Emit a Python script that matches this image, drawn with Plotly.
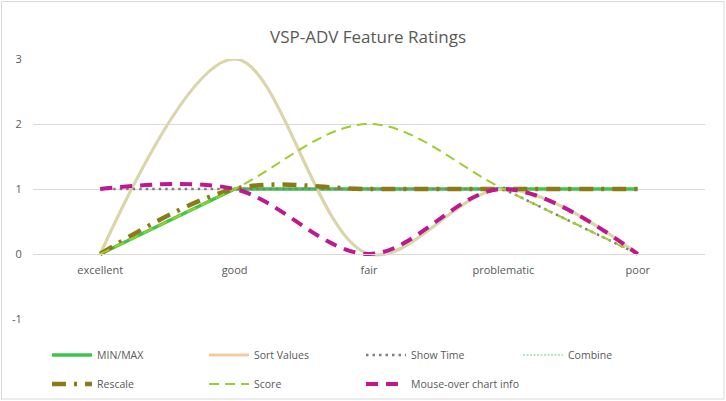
import plotly.graph_objects as go

categories = ["excellent", "good", "fair", "problematic", "poor"]

min_max = [0, 1, 1, 1, 1]
sort_values = [0, 3, 0, 1, 0]
show_time = [1, 1, 1, 1, 0]
combine = [0, 3, 0, 1, 0]
rescale = [0, 1, 1, 1, 1]
score = [0, 1, 2, 1, 0]
mouse_over = [1, 1, 0, 1, 0]

y_ticks = [-1, 0, 1, 2, 3]
y_tick_labels = ["-1", "0", "1", "2", "3"]

FONT = "Open Sans"
TXT = "#595959"
GRID = "#d9d9d9"

series = [
    ("MIN/MAX", min_max, dict(color="#3dc54b", width=3.5, shape="linear"), "legend"),
    ("Sort Values", sort_values, dict(color="#f5caa0", width=3.2, shape="spline", smoothing=1), "legend"),
    ("Show Time", show_time, dict(color="#7f7f7f", width=2.5, dash="2.5px,4px", shape="linear"), "legend"),
    ("Combine", combine, dict(color="#aee8bb", width=2, dash="2px,1.5px", shape="spline", smoothing=1), "legend"),
    ("Rescale", rescale, dict(color="#8c7a18", width=4.5, dash="14px,8px,3px,8px", shape="spline", smoothing=1), "legend2"),
    ("Score", score, dict(color="#9dcc2e", width=2, dash="10px,6px", shape="spline", smoothing=1), "legend2"),
    ("Mouse-over chart info", mouse_over, dict(color="#bf178e", width=4, dash="12px,8px", shape="spline", smoothing=1), "legend2"),
]

fig = go.Figure()
for name, vals, line, lg in series:
    fig.add_trace(go.Scatter(
        x=categories, y=vals, name=name, mode="lines",
        line=line, legend=lg,
    ))

# empty spacer entry so the last real entry of the second legend row is not clipped
fig.add_trace(go.Scatter(x=[None], y=[None], name=" ", mode="lines",
                         line=dict(color="rgba(0,0,0,0)", width=0),
                         legend="legend2", hoverinfo="skip"))

W, H = 726, 401
L, R, T, B = 33, 21, 59, 82
pw, ph = W - L - R, H - T - B

def px_x(x):
    return (x - L) / pw

def px_y(y):
    return (H - B - y) / ph

legend_common = dict(
    orientation="h", xanchor="left", yanchor="middle",
    xref="container", yref="container",
    entrywidth=102, entrywidthmode="pixels", itemwidth=40,
    font=dict(family=FONT, size=10.5, color=TXT),
    bgcolor="rgba(0,0,0,0)", itemclick=False,
)

fig.update_layout(
    template="none",
    width=W, height=H,
    margin=dict(l=L, r=R, t=T, b=B, autoexpand=False),
    paper_bgcolor="white", plot_bgcolor="white",
    title=dict(text="VSP-ADV Feature Ratings", x=px_x(368), xref="paper", xanchor="center",
               y=1 - 37 / H, yanchor="middle",
               font=dict(family=FONT, size=17, color=TXT)),
    font=dict(family=FONT, color=TXT),
    legend=dict(x=47 / W, y=1 - 355 / H, **legend_common),
    legend2=dict(x=47 / W, y=1 - 384 / H, **legend_common),
    xaxis=dict(
        type="category", range=[-0.5, 4.5], anchor="free", position=0.25,
        automargin=False,
        showgrid=False, showline=True, linecolor=GRID, linewidth=1,
        ticks="outside", ticklen=6, tickcolor="rgba(0,0,0,0)",
        tickfont=dict(family=FONT, size=11, color=TXT), fixedrange=True,
    ),
    yaxis=dict(
        range=[-1, 3], tickvals=y_ticks, ticktext=y_tick_labels,
        showgrid=True, gridcolor=GRID, gridwidth=1,
        automargin=False,
        zeroline=False, showline=False,
        ticks="outside", ticklen=8, tickcolor="rgba(0,0,0,0)",
        tickfont=dict(family=FONT, size=11, color=TXT), fixedrange=True,
    ),
    shapes=[dict(
        type="rect", xref="paper", yref="paper",
        x0=px_x(1.5), x1=px_x(724), y0=px_y(399), y1=px_y(1.5),
        line=dict(color=GRID, width=1), fillcolor="rgba(0,0,0,0)", layer="below",
    )],
)

fig.write_html("out.html", config={"displayModeBar": False},
               post_script="document.body.style.margin='0';")
